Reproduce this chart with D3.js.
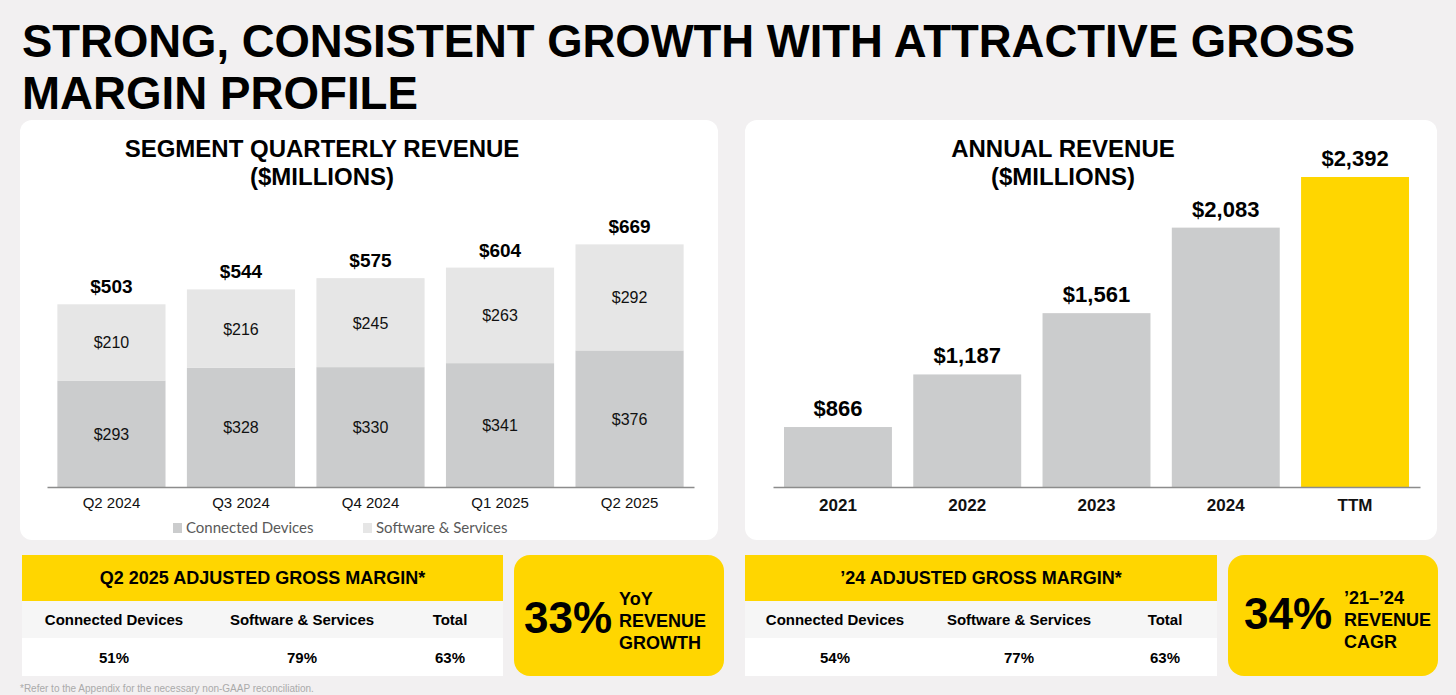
<!DOCTYPE html>
<html>
<head>
<meta charset="utf-8">
<script src="https://cdn.jsdelivr.net/npm/d3@7"></script>
<style>
  html, body { margin: 0; padding: 0; background: #f2f0f1; }
  svg { display: block; font-family: "Liberation Sans", Arial, sans-serif; }
</style>
</head>
<body>
<div id="viz"></div>
<script>
// ---- data ----
var titleLines = ["STRONG, CONSISTENT GROWTH WITH ATTRACTIVE GROSS", "MARGIN PROFILE"];

var quarters = ["Q2 2024", "Q3 2024", "Q4 2024", "Q1 2025", "Q2 2025"];
var devices = [293, 328, 330, 341, 376];
var software = [210, 216, 245, 263, 292];
var quarterTotals = [503, 544, 575, 604, 669];
var segmentNames = ["Connected Devices", "Software & Services"];

var years = ["2021", "2022", "2023", "2024", "TTM"];
var annualRevenue = [866, 1187, 1561, 2083, 2392];

var marginCols = ["Connected Devices", "Software & Services", "Total"];
var q2Margins = ["51%", "79%", "63%"];
var fy24Margins = ["54%", "77%", "63%"];

var width = 1456, height = 695;
var yellow = "#ffd600", devColor = "#cbcccd", swColor = "#e6e6e6";

var svg = d3.select("#viz").append("svg")
    .attr("width", width)
    .attr("height", height);

svg.append("rect").attr("width", width).attr("height", height).attr("fill", "#f2f0f1");

// big title
svg.selectAll(".title")
    .data(titleLines)
    .enter().append("text")
    .attr("class", "title")
    .attr("x", 22)
    .attr("y", function(d, i) { return 57 + i * 52; })
    .attr("font-size", 46)
    .attr("font-weight", "bold")
    .attr("fill", "#000")
    .attr("textLength", function(d, i) { return i == 0 ? 1333 : 396; })
    .attr("lengthAdjust", "spacingAndGlyphs")
    .text(function(d) { return d; });

// cards
svg.append("rect").attr("x", 20).attr("y", 120).attr("width", 698).attr("height", 420)
    .attr("rx", 12).attr("fill", "#fff");
svg.append("rect").attr("x", 745).attr("y", 120).attr("width", 692).attr("height", 420)
    .attr("rx", 12).attr("fill", "#fff");

function cardTitle(cx, lines) {
    svg.selectAll(null)
        .data(lines)
        .enter().append("text")
        .attr("x", cx)
        .attr("y", function(d, i) { return 157 + i * 28; })
        .attr("text-anchor", "middle")
        .attr("font-size", 24)
        .attr("font-weight", "bold")
        .text(function(d) { return d; });
}
cardTitle(322, ["SEGMENT QUARTERLY REVENUE", "($MILLIONS)"]);
cardTitle(1063, ["ANNUAL REVENUE", "($MILLIONS)"]);

// ---- segment quarterly revenue (stacked) ----
var rows = quarters.map(function(q, i) {
    return {q: q, dev: devices[i], sw: software[i], total: quarterTotals[i]};
});

var xQ = d3.scaleBand()
    .domain(quarters)
    .range([47, 694])
    .paddingInner(0.165)
    .paddingOuter(0.08);

var yQ = d3.scaleLinear()
    .domain([0, 669])
    .range([487, 244]);

var stack = d3.stack().keys(["dev", "sw"])(rows);
var segColors = [devColor, swColor];

var gq = svg.append("g");
stack.forEach(function(layer, li) {
    gq.selectAll(null)
        .data(layer)
        .enter().append("rect")
        .attr("x", function(d) { return xQ(d.data.q); })
        .attr("y", function(d) { return yQ(d[1]); })
        .attr("width", xQ.bandwidth())
        .attr("height", function(d) { return yQ(d[0]) - yQ(d[1]); })
        .attr("fill", segColors[li]);

    gq.selectAll(null)
        .data(layer)
        .enter().append("text")
        .attr("x", function(d) { return xQ(d.data.q) + xQ.bandwidth() / 2; })
        .attr("y", function(d) { return (yQ(d[0]) + yQ(d[1])) / 2 + 6; })
        .attr("text-anchor", "middle")
        .attr("font-size", 16)
        .attr("fill", "#111")
        .text(function(d) { return "$" + (d[1] - d[0]); });
});

gq.selectAll(".tot")
    .data(rows)
    .enter().append("text")
    .attr("class", "tot")
    .attr("x", function(d) { return xQ(d.q) + xQ.bandwidth() / 2; })
    .attr("y", function(d) { return yQ(d.total) - 11; })
    .attr("text-anchor", "middle")
    .attr("font-size", 19)
    .attr("font-weight", "bold")
    .text(function(d) { return "$" + d.total; });

var axQ = gq.append("g")
    .attr("transform", "translate(0," + 487 + ")")
    .call(d3.axisBottom(xQ).tickSize(0).tickPadding(10));
axQ.select(".domain").attr("stroke", "#8c8c8c").attr("stroke-width", 1.5);
axQ.selectAll("text")
    .attr("font-size", 15)
    .attr("font-family", "Liberation Sans, Arial, sans-serif")
    .attr("fill", "#111");

// legend
var legend = gq.selectAll(".leg")
    .data(segmentNames)
    .enter().append("g")
    .attr("class", "leg")
    .attr("transform", function(d, i) { return "translate(" + (173 + i * 190) + ",523)"; });
legend.append("rect")
    .attr("width", 9).attr("height", 10)
    .attr("fill", function(d, i) { return segColors[i]; });
legend.append("text")
    .attr("x", 13)
    .attr("y", 10)
    .attr("font-size", 15)
    .attr("font-family", "Lato, 'Open Sans', sans-serif")
    .attr("fill", "#595959")
    .text(function(d) { return d; });

// ---- annual revenue ----
var xA = d3.scaleBand()
    .domain(years)
    .range([773, 1420])
    .paddingInner(0.165)
    .paddingOuter(0.085);

var yA = d3.scaleLinear()
    .domain([500, 2392])
    .range([487, 177]);

var ga = svg.append("g");
ga.selectAll("rect")
    .data(annualRevenue)
    .enter().append("rect")
    .attr("x", function(d, i) { return xA(years[i]); })
    .attr("y", function(d) { return yA(d); })
    .attr("width", xA.bandwidth())
    .attr("height", function(d) { return yA(500) - yA(d); })
    .attr("fill", function(d, i) { return years[i] == "TTM" ? yellow : devColor; });

ga.selectAll(".val")
    .data(annualRevenue)
    .enter().append("text")
    .attr("class", "val")
    .attr("x", function(d, i) { return xA(years[i]) + xA.bandwidth() / 2; })
    .attr("y", function(d) { return yA(d) - 11; })
    .attr("text-anchor", "middle")
    .attr("font-size", 22)
    .attr("font-weight", "bold")
    .text(function(d) { return "$" + d3.format(",")(d); });

var axA = ga.append("g")
    .attr("transform", "translate(0," + 487 + ")")
    .call(d3.axisBottom(xA).tickSize(0).tickPadding(12));
axA.select(".domain").attr("stroke", "#8c8c8c").attr("stroke-width", 1.5);
axA.selectAll("text")
    .attr("font-size", 17)
    .attr("font-weight", "bold")
    .attr("font-family", "Liberation Sans, Arial, sans-serif")
    .attr("fill", "#111");

// ---- margin tables ----
function marginTable(x0, w, header, values, colPos) {
    var g = svg.append("g");
    g.append("rect").attr("x", x0).attr("y", 555).attr("width", w).attr("height", 46).attr("fill", yellow);
    g.append("rect").attr("x", x0).attr("y", 601).attr("width", w).attr("height", 37).attr("fill", "#f6f6f6");
    g.append("rect").attr("x", x0).attr("y", 638).attr("width", w).attr("height", 38).attr("fill", "#fff");
    g.append("text")
        .attr("x", x0 + w / 2).attr("y", 584)
        .attr("text-anchor", "middle")
        .attr("font-size", 18).attr("font-weight", "bold")
        .text(header);
    g.selectAll(".lab")
        .data(marginCols)
        .enter().append("text")
        .attr("x", function(d, i) { return x0 + colPos[i]; })
        .attr("y", 625)
        .attr("text-anchor", "middle")
        .attr("font-size", 15).attr("font-weight", "bold")
        .text(function(d) { return d; });
    g.selectAll(".v")
        .data(values)
        .enter().append("text")
        .attr("x", function(d, i) { return x0 + colPos[i]; })
        .attr("y", 663)
        .attr("text-anchor", "middle")
        .attr("font-size", 15).attr("font-weight", "bold")
        .text(function(d) { return d; });
}
marginTable(22, 481, "Q2 2025 ADJUSTED GROSS MARGIN*", q2Margins, [92, 280, 428]);
marginTable(745, 472, "\u201924 ADJUSTED GROSS MARGIN*", fy24Margins, [90, 274, 420]);

// ---- callout boxes ----
function callout(x0, w, big, bigX, bigY, lines, lx, ly) {
    var g = svg.append("g");
    g.append("rect").attr("x", x0).attr("y", 555).attr("width", w).attr("height", 121)
        .attr("rx", 16).attr("fill", yellow);
    g.append("text")
        .attr("x", bigX).attr("y", bigY)
        .attr("font-size", 44).attr("font-weight", "bold")
        .text(big);
    g.selectAll(null)
        .data(lines)
        .enter().append("text")
        .attr("x", lx)
        .attr("y", function(d, i) { return ly + i * 22; })
        .attr("font-size", 18).attr("font-weight", "bold")
        .text(function(d) { return d; });
}
callout(514, 210, "33%", 524, 633, ["YoY", "REVENUE", "GROWTH"], 619, 605);
callout(1228, 210, "34%", 1244, 629, ["\u201921\u2013\u201924", "REVENUE", "CAGR"], 1344, 604);

// footnote
svg.append("text")
    .attr("x", 20).attr("y", 692)
    .attr("font-size", 10)
    .attr("fill", "#aaa")
    .text("*Refer to the Appendix for the necessary non-GAAP reconciliation.");
</script>
</body>
</html>
